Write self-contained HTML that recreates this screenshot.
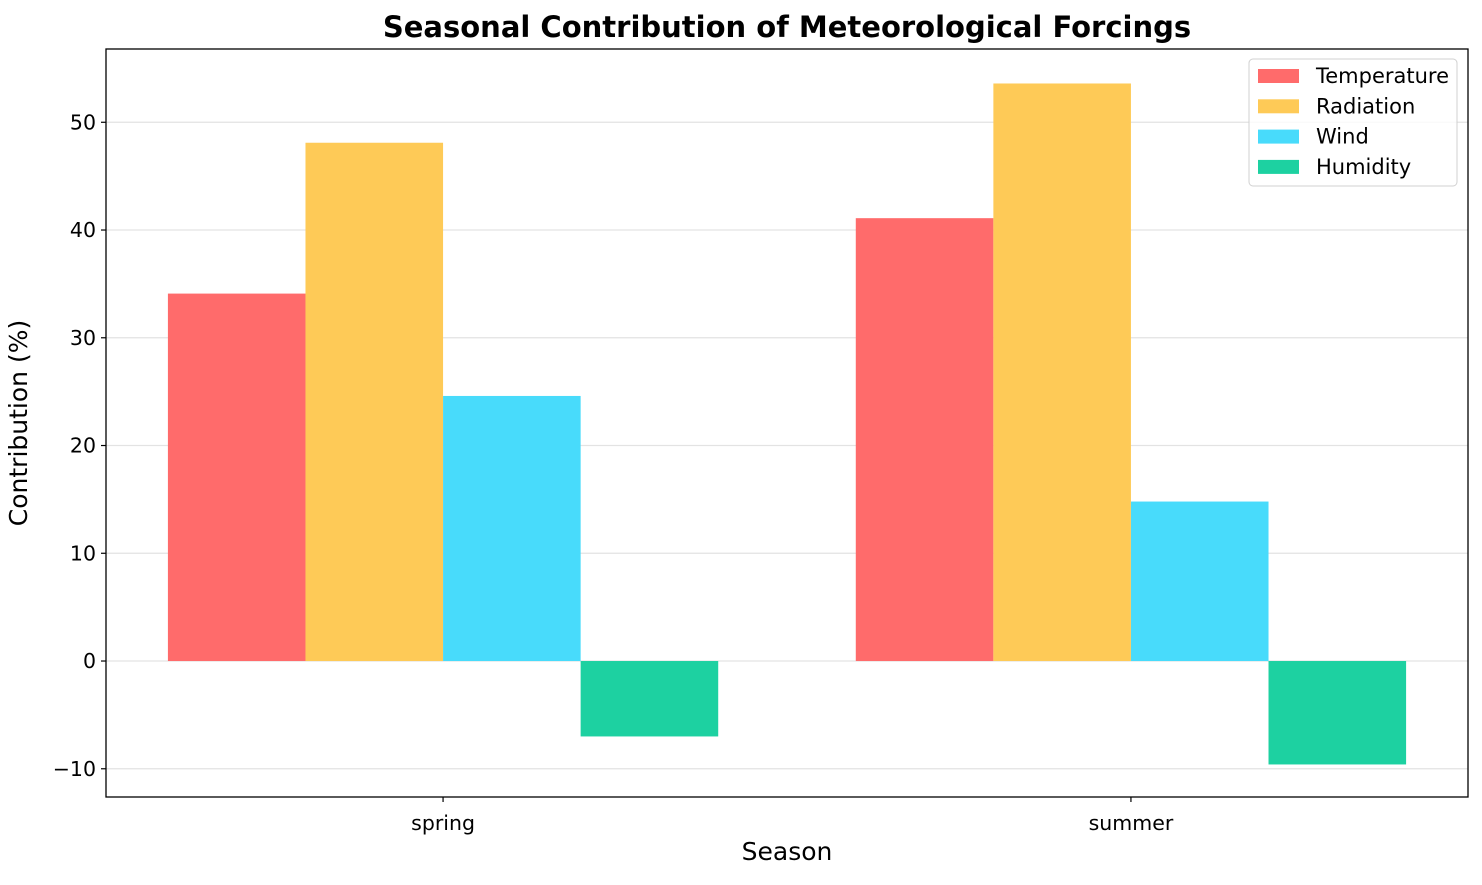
<!DOCTYPE html>
<html><head><meta charset="utf-8"><style>
html,body{margin:0;padding:0;background:#fff;}
svg text{font-family:"DejaVu Sans","Liberation Sans",sans-serif;}
</style></head><body>
<svg id="chart" width="1482" height="880" xmlns="http://www.w3.org/2000/svg"></svg>
<script>
const categories = ["spring","summer"];
const seriesNames = ["Temperature","Radiation","Wind","Humidity"];
const temperature = [34.1, 41.1];
const radiation = [48.1, 53.6];
const wind = [24.6, 14.8];
const humidity = [-7.0, -9.6];
const yTicks = [-10,0,10,20,30,40,50];

const colors = ["#FF6B6B","#FECA57","#48DBFB","#1DD1A1"];
const series = [temperature, radiation, wind, humidity];
const L=106,R=1468,T=49,B=797;
const yMin=-12.62,yMax=56.8,xMin=-0.49,xMax=1.49;
const y=v=>B-(v-yMin)/(yMax-yMin)*(B-T);
const x=v=>L+(v-xMin)/(xMax-xMin)*(R-L);
const svg=document.getElementById('chart');
const NS="http://www.w3.org/2000/svg";
function mk(tag,attrs,text){const e=document.createElementNS(NS,tag);for(const k in attrs)e.setAttribute(k,attrs[k]);if(text!==undefined)e.textContent=text;svg.appendChild(e);return e;}

yTicks.forEach(t=>{
  const g=mk('line',{x1:L,x2:R,y1:y(t),y2:y(t),stroke:'#e3e3e3','stroke-width':1.2});
  
  
});
const w=0.2;
series.forEach((s,si)=>{
  s.forEach((v,ci)=>{
    const xc=ci+(si-1.5)*w;
    const x0=x(xc-w/2),x1=x(xc+w/2);
    const r=mk('rect',{x:x0,y:Math.min(y(v),y(0)),width:x1-x0,height:Math.abs(y(v)-y(0)),fill:colors[si]});
    
    
  });
});
const f=mk('rect',{x:L,y:T,width:R-L,height:B-T,fill:'none',stroke:'#000','stroke-width':1.3});


yTicks.forEach(t=>{
  mk('line',{x1:L-5,x2:L,y1:y(t),y2:y(t),stroke:'#000','stroke-width':1.2});
  const tx=mk('text',{x:L-10,y:y(t)+7,'text-anchor':'end','font-size':20.5},String(t).replace('-','\u2212'));
  
  
});
categories.forEach((c,i)=>{
  mk('line',{x1:x(i),x2:x(i),y1:B,y2:B+5,stroke:'#000','stroke-width':1.2});
  const tx=mk('text',{x:x(i),y:B+33,'text-anchor':'middle','font-size':20.5},c);
  
  
});
let e=mk('text',{x:(L+R)/2,y:37,'text-anchor':'middle','font-size':29,'font-weight':'bold'},'Seasonal Contribution of Meteorological Forcings');


e=mk('text',{x:(L+R)/2,y:860,'text-anchor':'middle','font-size':25},'Season');


e=mk('text',{x:27,y:(T+B)/2,'text-anchor':'middle','font-size':25,transform:'rotate(-90 27 '+((T+B)/2)+')'},'Contribution (%)');


e=mk('rect',{x:1249,y:59,width:208,height:127,rx:4,fill:'#fff','fill-opacity':0.8,stroke:'#d0d0d0','stroke-width':1});


seriesNames.forEach((n,i)=>{
  const cy=76+i*30.3;
  const p=mk('rect',{x:1258,y:cy-7,width:41,height:14,fill:colors[i]});
  
  
  const t=mk('text',{x:1316,y:cy+7,'font-size':21},n);
  
  
});
</script>
</body></html>
